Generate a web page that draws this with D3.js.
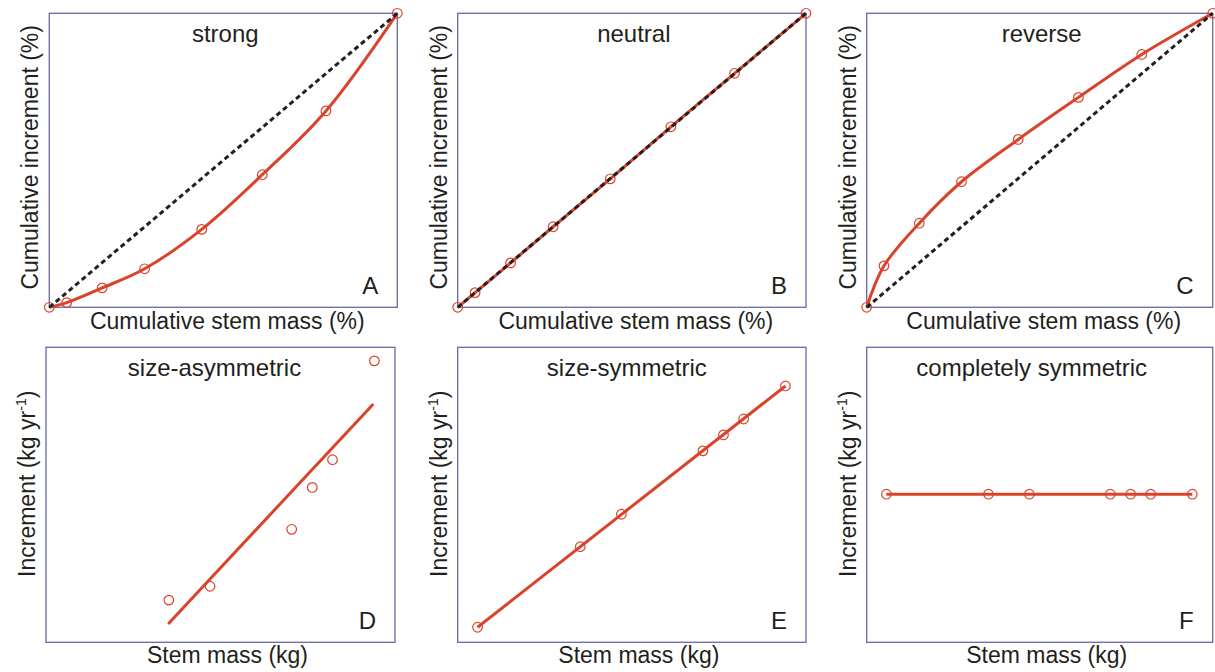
<!DOCTYPE html>
<html><head><meta charset="utf-8">
<script src="https://cdn.jsdelivr.net/npm/d3@7"></script>
<style>html,body{margin:0;padding:0;background:#fff;}svg{display:block;}</style>
</head><body>
<script>
// ---- data ----
const cumStem = [0, 5.0, 15.2, 27.4, 43.8, 61.2, 79.5, 100];
const strongInc = [0, 1.6, 6.6, 13.1, 26.5, 45.1, 66.8, 100];
const neutralInc = [0, 5.0, 15.1, 27.4, 43.7, 61.4, 79.6, 100];
const reverseInc = [0, 14.1, 28.6, 42.7, 57.1, 71.4, 86.0, 100];
const equality = [[0, 0], [100, 100]];

const stemMass = [5.7, 35.2, 47.0, 70.4, 76.3, 82.1, 94.1];
const symInc = [5.1, 32.4, 43.4, 64.9, 70.3, 75.7, 86.9];
const asymMass = [35.2, 47.0, 70.4, 76.3, 82.1, 94.1];
const asymInc = [14.3, 19.0, 38.3, 52.5, 61.9, 95.4];
const asymFitMass = [35.0, 93.8];
const asymFitInc = [6.2, 80.8];
const flatInc = [50.2, 50.2, 50.2, 50.2, 50.2, 50.2, 50.2];

const titles = ["strong", "neutral", "reverse", "size-asymmetric", "size-symmetric", "completely symmetric"];
const letters = ["A", "B", "C", "D", "E", "F"];
const xLabels = ["Cumulative stem mass (%)", "Stem mass (kg)"];

// ---- layout ----
const W = 1215, H = 672;
const frames = [
  [49.3, 397.3, 13.3, 307.3], [457.7, 806, 13.3, 307.3], [866.7, 1212.7, 13.3, 307.3],
  [46, 395, 347.3, 642.3], [457.7, 806, 347.3, 642.3], [866.7, 1212.7, 347.3, 642.3]
];
const titleDx = [2, 2, 2, -6, -5, -8];
const red = "#d9432b", ink = "#231f20", frame = "#6767a8";
const font = "'Liberation Sans', Arial, Helvetica, sans-serif";

const svg = d3.select("body").append("svg").attr("width", W).attr("height", H);

const zip = (a, b) => a.map((v, i) => [v, b[i]]);
const panels = [
  {type: "cum", pts: zip(cumStem, strongInc)},
  {type: "cum", pts: zip(cumStem, neutralInc)},
  {type: "cum", pts: zip(cumStem, reverseInc)},
  {type: "abs", pts: zip(asymMass, asymInc), fit: zip(asymFitMass, asymFitInc)},
  {type: "abs", pts: zip(stemMass, symInc), fit: [[stemMass[0], symInc[0]], [stemMass[6], symInc[6]]]},
  {type: "abs", pts: zip(stemMass, flatInc), fit: [[stemMass[0], flatInc[0]], [stemMass[6], flatInc[6]]]}
];

panels.forEach((p, i) => {
  const r = Math.floor(i / 3);
  const [x0, x1, y0, y1] = frames[i];
  const cx = (x0 + x1) / 2, cy = (y0 + y1) / 2;
  const x = d3.scaleLinear().domain([0, 100]).range([x0, x1]);
  const y = d3.scaleLinear().domain([0, 100]).range([y1, y0]);
  const g = svg.append("g");

  g.append("rect").attr("x", x0).attr("y", y0).attr("width", x1 - x0).attr("height", y1 - y0)
    .attr("fill", "none").attr("stroke", frame).attr("stroke-width", 1.3);

  const line = d3.line().x(d => x(d[0])).y(d => y(d[1]));
  if (p.type === "cum") {
    g.append("path").datum(p.pts).attr("d", d3.line().x(d => x(d[0])).y(d => y(d[1])).curve(d3.curveCatmullRom.alpha(0.5)))
      .attr("fill", "none").attr("stroke", red).attr("stroke-width", 3);
  } else {
    g.append("path").datum(p.fit).attr("d", line)
      .attr("fill", "none").attr("stroke", red).attr("stroke-width", 3);
  }
  g.selectAll("circle").data(p.pts).join("circle")
    .attr("cx", d => x(d[0])).attr("cy", d => y(d[1])).attr("r", 4.8)
    .attr("fill", "none").attr("stroke", red).attr("stroke-width", 1.2);
  if (p.type === "cum") {
    g.append("path").datum(equality).attr("d", line)
      .attr("fill", "none").attr("stroke", ink).attr("stroke-width", 3)
      .attr("stroke-dasharray", "5,3.5");
  }

  g.append("text").attr("x", cx + titleDx[i]).attr("y", y0 + 29)
    .attr("text-anchor", "middle").attr("font-family", font).attr("font-size", 24)
    .attr("fill", ink).text(titles[i]);
  g.append("text").attr("x", x1 - 19).attr("y", y1 - 13.5)
    .attr("text-anchor", "end").attr("font-family", font).attr("font-size", 24)
    .attr("fill", ink).text(letters[i]);
  g.append("text").attr("x", cx + (r === 0 ? 4 : 7)).attr("y", y1 + (r === 0 ? 22 : 21))
    .attr("text-anchor", "middle").attr("font-family", font).attr("font-size", 23)
    .attr("fill", ink).text(xLabels[r]);

  const yl = g.append("text")
    .attr("transform", `translate(${x0 - 11},${cy + (r === 0 ? -3 : -11)}) rotate(-90)`)
    .attr("text-anchor", "middle").attr("font-family", font).attr("font-size", 23)
    .attr("fill", ink);
  if (r === 0) {
    yl.text("Cumulative increment (%)");
  } else {
    yl.append("tspan").text("Increment (kg yr");
    yl.append("tspan").attr("dy", -9).attr("font-size", 14).text("-1");
    yl.append("tspan").attr("dy", 9).text(")");
  }
});
</script>
</body></html>
